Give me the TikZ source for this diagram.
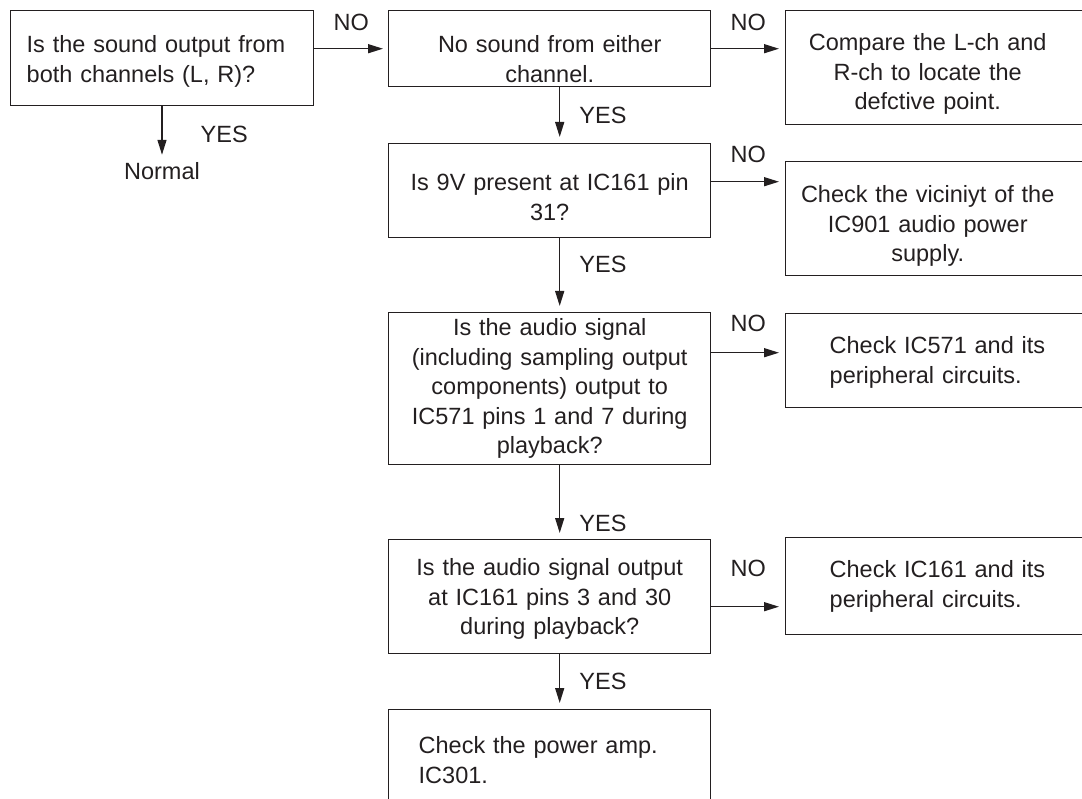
\documentclass[tikz,border=0pt]{standalone}
\usepackage{fontspec}
\setmainfont{Liberation Sans}
\usepackage{tikz}
\usetikzlibrary{arrows.meta, positioning}
\definecolor{ink}{HTML}{231F20}

\begin{document}
\begin{tikzpicture}[x=1pt, y=-1pt, color=ink,
    box/.style={draw, line width=1.4pt, anchor=north west, inner ysep=0pt,
        font=\fontsize{23.5}{29.5}\selectfont},
    arr/.style={-{Triangle[length=15pt, width=9pt]}, line width=1.4pt, shorten >=6pt},
    lbl/.style={inner sep=0pt, font=\fontsize{23.5}{29.5}\selectfont}]
        \useasboundingbox (0,0) rectangle (1082,799);
        \clip (0,0) rectangle (1082,799);

        % main column
        \node (q1) [box, align=left, inner xsep=16pt, text width=271pt, text height=42pt, text depth=53pt] at (10,10) {Is the sound output from\\both channels (L, R)?};
        \node (q2) [box, align=center, inner xsep=10pt, text width=302pt, text height=42pt, text depth=34pt] at (388,10) {No sound from either\\channel.};
        \node (q3) [box, align=center, inner xsep=10pt, text width=302pt, text height=47pt, text depth=47pt] at (388,143) {Is 9V present at IC161 pin\\31?};
        \node (q4) [box, align=center, inner xsep=10pt, text width=302pt, text height=23pt, text depth=129pt] at (388,312) {Is the audio signal\\(including sampling output\\components) output to\\IC571 pins 1 and 7 during\\playback?};
        \node (q5) [box, align=center, inner xsep=10pt, text width=302pt, text height=36pt, text depth=78pt] at (388,539) {Is the audio signal output\\at IC161 pins 3 and 30\\during playback?};
        \node (q6) [box, align=left, inner xsep=30pt, text width=262pt, text height=44pt, text depth=67pt] at (388,709) {Check the power amp.\\IC301.};
        \node (ok) [lbl, anchor=base] at (162,180) {Normal};

        % right column (boxes run off the page edge)
        \node (r1) [box, align=left, inner xsep=10pt, text width=295pt, text height=40pt, text depth=74pt] at (785,10) {\parbox[t]{264pt}{\centering Compare the L-ch and\\R-ch to locate the\\defctive point.}};
        \node (r2) [box, align=left, inner xsep=10pt, text width=295pt, text height=41pt, text depth=73pt] at (785,161) {\parbox[t]{264pt}{\centering Check the viciniyt of the\\IC901 audio power\\supply.}};
        \node (r3) [box, align=left, inner xsep=44pt, text width=227pt, text height=40pt, text depth=54pt] at (785,313) {Check IC571 and its\\peripheral circuits.};
        \node (r4) [box, align=left, inner xsep=44pt, text width=227pt, text height=40pt, text depth=57pt] at (785,537) {Check IC161 and its\\peripheral circuits.};

        % NO branches
        \draw[arr, shorten >=5pt] (q2.west -| q1.east) -- (q2.west) node[lbl, midway, above=17pt] (no1) {NO};
        \draw[arr] (q2.east) -- (q2.east -| r1.west) node[lbl, midway, above=17pt] (no2) {NO};
        \coordinate (e3) at ([yshift=9pt]q3.east);
        \draw[arr] (e3) -- (e3 -| r2.west) node[lbl, midway, above=18pt] (no3) {NO};
        \coordinate (e4) at ([yshift=36pt]q4.east);
        \draw[arr] (e4) -- (e4 -| r3.west) node[lbl, midway, above=20pt] (no4) {NO};
        \coordinate (e5) at ([yshift=-10pt]q5.east);
        \draw[arr] (e5) -- (e5 -| r4.west) node[lbl, midway, above=29pt] (no5) {NO};

        % YES branches
        \draw[arr, shorten >=8pt] (q1.south -| ok) -- (ok.north) node[lbl, midway, right=38pt] (yes1) {YES};
        \coordinate (s2) at ([xshift=10pt]q2.south);
        \draw[arr] (s2) -- (s2 |- q3.north) node[lbl, midway, right=19pt] (yes2) {YES};
        \coordinate (s3) at ([xshift=10pt]q3.south);
        \draw[arr] (s3) -- (s3 |- q4.north) node[lbl, pos=0.35, right=19pt] (yes3) {YES};
        \coordinate (s4) at ([xshift=10pt]q4.south);
        \draw[arr] (s4) -- (s4 |- q5.north) node[lbl, pos=0.79, right=19pt] (yes4) {YES};
        \coordinate (s5) at ([xshift=10pt]q5.south);
        \draw[arr] (s5) -- (s5 |- q6.north) node[lbl, midway, right=19pt] (yes5) {YES};
    \end{tikzpicture}
\end{document}
